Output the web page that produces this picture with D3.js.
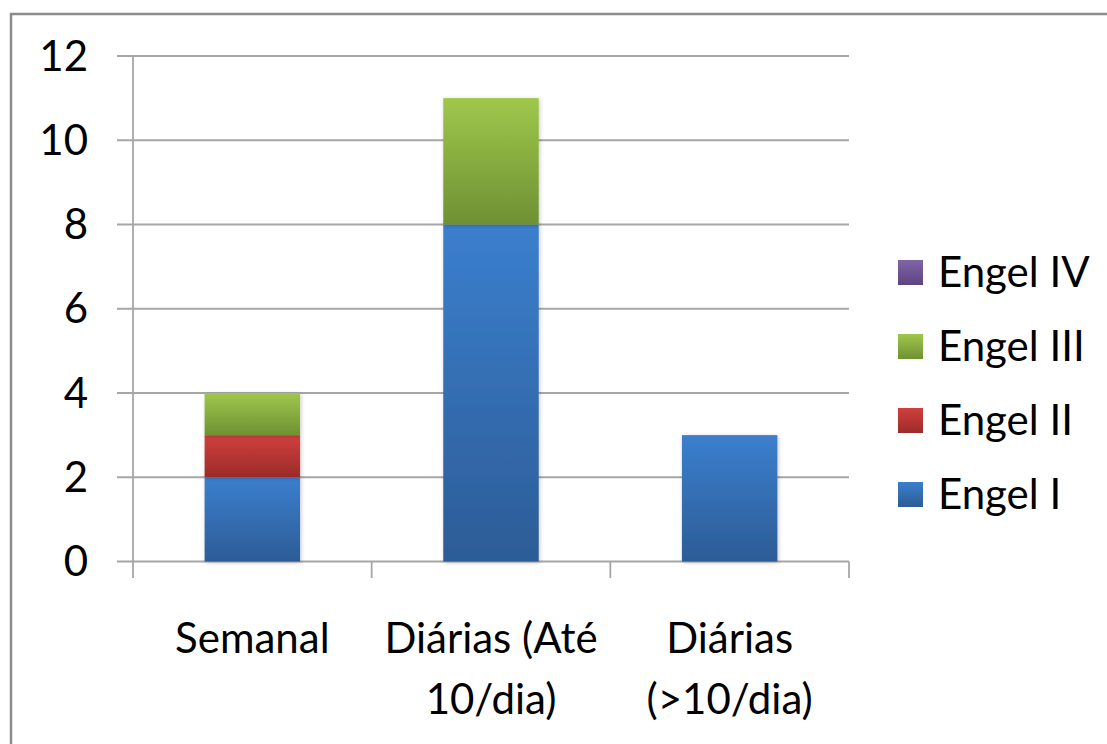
<!DOCTYPE html>
<html>
<head>
<meta charset="utf-8">
<script src="https://cdn.jsdelivr.net/npm/d3@7"></script>
<style>
  html, body { margin: 0; padding: 0; background: #fff; }
  svg { display: block; }
  text { font-family: Lato, "Open Sans", sans-serif; fill: #000; }
</style>
</head>
<body>
<svg id="chart" width="1107" height="744"></svg>
<script>
// Chart data
const categories = ["Semanal", "Diárias (Até 10/dia)", "Diárias (>10/dia)"];
const seriesNames = ["Engel I", "Engel II", "Engel III", "Engel IV"];
const engelI   = [2, 8, 3];
const engelII  = [1, 0, 0];
const engelIII = [1, 3, 0];
const engelIV  = [0, 0, 0];
const yTicks = [0, 2, 4, 6, 8, 10, 12];

// Gradient stops per series (top colour, bottom colour)
const seriesColors = [
  ["#3b7fce", "#2c5c96"],
  ["#d0403d", "#9c2b29"],
  ["#9fc74b", "#6f9133"],
  ["#8064a8", "#5d4480"]
];

const svg = d3.select("#chart");
const defs = svg.append("defs");

seriesColors.forEach((c, i) => {
  const g = defs.append("linearGradient")
    .attr("id", "grad" + i)
    .attr("x1", 0).attr("y1", 0).attr("x2", 0).attr("y2", 1);
  g.append("stop").attr("offset", "0%").attr("stop-color", c[0]);
  g.append("stop").attr("offset", "100%").attr("stop-color", c[1]);
});

const shadow = defs.append("filter").attr("id", "shadow")
  .attr("x", "-20%").attr("y", "-20%").attr("width", "140%").attr("height", "140%");
shadow.append("feDropShadow")
  .attr("dx", 1).attr("dy", 1).attr("stdDeviation", 2)
  .attr("flood-color", "#000").attr("flood-opacity", 0.22);

// Outer frame
svg.append("rect")
  .attr("x", 11).attr("y", 14)
  .attr("width", 1120).attr("height", 760)
  .attr("fill", "none")
  .attr("stroke", "#8c8c8c")
  .attr("stroke-width", 2.5);

const plotLeft = 133, plotRight = 849, plotTop = 56, plotBottom = 561.5;

const x = d3.scaleBand().domain(categories).range([plotLeft, plotRight]).padding(0);
const y = d3.scaleLinear().domain([0, 12]).range([plotBottom, plotTop]);

const gridColor = "#a6a6a6";

// Horizontal gridlines with their tick stubs to the left of the axis
svg.append("g").selectAll("line")
  .data(yTicks)
  .join("line")
  .attr("x1", plotLeft - 16).attr("x2", plotRight)
  .attr("y1", d => y(d)).attr("y2", d => y(d))
  .attr("stroke", gridColor).attr("stroke-width", 1.8);

// Y axis line
svg.append("line")
  .attr("x1", plotLeft).attr("x2", plotLeft)
  .attr("y1", plotTop).attr("y2", plotBottom + 16.5)
  .attr("stroke", gridColor).attr("stroke-width", 1.8);

// Category boundary ticks below the baseline
const boundaries = categories.map(c => x(c)).concat([x(categories[categories.length - 1]) + x.bandwidth()]);
svg.append("g").selectAll("line")
  .data(boundaries.slice(1))
  .join("line")
  .attr("x1", d => d).attr("x2", d => d)
  .attr("y1", plotBottom).attr("y2", plotBottom + 16.5)
  .attr("stroke", gridColor).attr("stroke-width", 1.8);

// Y tick labels
svg.append("g").selectAll("text")
  .data(yTicks)
  .join("text")
  .attr("x", 88)
  .attr("y", d => y(d))
  .attr("dy", "0.35em")
  .attr("text-anchor", "end")
  .attr("font-size", 42)
  .text(d => d);

// Stacked bars
const rows = categories.map((c, i) => ({
  category: c,
  "Engel I": engelI[i],
  "Engel II": engelII[i],
  "Engel III": engelIII[i],
  "Engel IV": engelIV[i]
}));
const stacked = d3.stack().keys(seriesNames)(rows);
const barW = x.bandwidth() * 0.4;

stacked.forEach((layer, si) => {
  svg.append("g")
    .attr("filter", "url(#shadow)")
    .selectAll("rect")
    .data(layer.filter(d => d[1] - d[0] > 0))
    .join("rect")
    .attr("x", d => x(d.data.category) + (x.bandwidth() - barW) / 2)
    .attr("width", barW)
    .attr("y", d => y(d[1]))
    .attr("height", d => y(d[0]) - y(d[1]))
    .attr("fill", "url(#grad" + si + ")");
});

// Category labels, wrapped to the band width
const labelSize = 42;
const lineHeight = 61;
categories.forEach(c => {
  const t = svg.append("text")
    .attr("text-anchor", "middle")
    .attr("font-size", labelSize);
  const cx = x(c) + x.bandwidth() / 2;
  const words = c.split(" ");
  const lines = [];
  let line = [];
  const probe = t.append("tspan").attr("x", cx);
  words.forEach(w => {
    line.push(w);
    probe.text(line.join(" "));
    if (probe.node().getComputedTextLength() > x.bandwidth() - 20 && line.length > 1) {
      line.pop();
      lines.push(line.join(" "));
      line = [w];
      probe.text(w);
    }
  });
  lines.push(line.join(" "));
  probe.remove();
  lines.forEach((l, i) => {
    t.append("tspan")
      .attr("x", cx)
      .attr("y", 653 + i * lineHeight)
      .text(l);
  });
});

// Legend (top entry is the last series)
const legendItems = seriesNames.slice().reverse();
const legend = svg.append("g");
legendItems.forEach((name, i) => {
  const si = seriesNames.indexOf(name);
  const cy = 272 + i * 74;
  legend.append("rect")
    .attr("x", 898).attr("y", cy - 12)
    .attr("width", 25).attr("height", 25)
    .attr("fill", "url(#grad" + si + ")");
  legend.append("text")
    .attr("x", 938).attr("y", cy)
    .attr("dy", "0.35em")
    .attr("font-size", 42)
    .text(name);
});
</script>
</body>
</html>
